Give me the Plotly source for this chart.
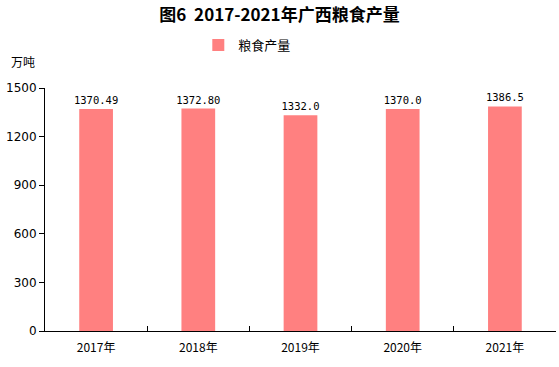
import plotly.graph_objects as go

years = ["2017年", "2018年", "2019年", "2020年", "2021年"]
output = [1370.49, 1372.80, 1332.0, 1370.0, 1386.5]
labels = ["1370.49", "1372.80", "1332.0", "1370.0", "1386.5"]
yticks = [0, 300, 600, 900, 1200, 1500]

font_cjk = "Noto Sans CJK SC, DejaVu Sans, sans-serif"

fig = go.Figure()
fig.add_trace(go.Bar(
    x=years, y=output, name="粮食产量",
    marker=dict(color="#FF8080", line=dict(width=0)),
    width=0.33,
    text=labels, textposition="outside", cliponaxis=False, constraintext="none",
    textfont=dict(size=10.5, color="#000000", family="DejaVu Sans Mono, monospace"),
))

fig.update_layout(
    width=559, height=367,
    margin=dict(l=45, r=3, t=88, b=36),
    paper_bgcolor="white", plot_bgcolor="white",
    title=dict(text="<b>图6  2017-2021年广西粮食产量</b>", x=0.5, xanchor="center",
               y=0.96, yanchor="middle",
               font=dict(size=17, color="#000000", family=font_cjk)),
    showlegend=True,
    legend=dict(orientation="h", x=0.30, xanchor="left", y=1.177, yanchor="middle",
                font=dict(size=13, color="#000000", family=font_cjk),
                itemwidth=30),
    xaxis=dict(type="category", showline=True, linecolor="#000000", linewidth=1,
               ticks="inside", tickson="boundaries", ticklen=5, tickcolor="#000000",
               ticklabelstandoff=6,
               tickfont=dict(size=12, color="#000000", family=font_cjk),
               showgrid=False, mirror=False),
    yaxis=dict(range=[0, 1500], tickvals=yticks, showline=True, linecolor="#000000",
               linewidth=1, ticks="outside", ticklen=5, tickcolor="#000000",
               tickfont=dict(size=12, color="#000000", family="DejaVu Sans, sans-serif"),
               showgrid=False, zeroline=False),
    bargap=0.67,
)
fig.add_annotation(text="万吨", xref="paper", yref="paper", x=-0.07, y=1.11,
                   xanchor="left", yanchor="middle", showarrow=False,
                   font=dict(size=12, color="#000000", family=font_cjk))

fig.write_html("out.html", config={"displayModeBar": False},
               post_script="document.body.style.margin='0';")
